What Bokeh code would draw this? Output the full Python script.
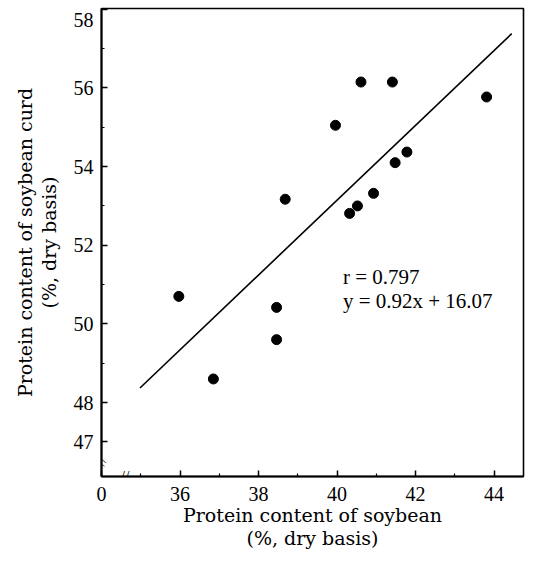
from bokeh.plotting import figure
from bokeh.models import Range1d, FixedTicker, Label
from bokeh.embed import file_html
from bokeh.resources import INLINE

# ---- data ----
soy_protein = [35.97, 36.85, 38.46, 38.46, 38.68, 39.96, 40.32, 40.52,
               40.61, 40.93, 41.41, 41.48, 41.78, 43.81]
curd_protein = [50.70, 48.60, 50.42, 49.60, 53.17, 55.05, 52.81, 53.00,
                56.15, 53.32, 56.15, 54.10, 54.37, 55.77]
fit_x = [34.98, 44.45]
fit_y = [48.37, 57.38]

x_ticks = [34, 36, 38, 40, 42, 44]
x_tick_labels = ["0", "36", "38", "40", "42", "44"]
x_minor = [35, 37, 39, 41, 43]
y_ticks = [47, 48, 50, 52, 54, 56, 58]
y_tick_labels = ["47", "48", "50", "52", "54", "56", "58"]
y_minor = [49, 51, 53, 55, 57]

stats_lines = ["r = 0.797", "y = 0.92x + 16.07"]

x_break = 34.6
y_break = 46.5

SERIF = "Liberation Serif"
LABEL_FONT = "DejaVu Serif"

p = figure(width=526, height=552,
           x_range=Range1d(34, 44.75), y_range=Range1d(46.12, 58.02),
           output_backend="svg", toolbar_location=None,
           min_border_left=101, min_border_right=3,
           min_border_top=8, min_border_bottom=76)

p.background_fill_color = "white"
p.border_fill_color = "white"
p.outline_line_color = "black"
p.outline_line_width = 1.6
p.xgrid.visible = False
p.ygrid.visible = False

# axes
p.xaxis.ticker = FixedTicker(ticks=x_ticks, minor_ticks=x_minor)
p.xaxis.major_label_overrides = {t: l for t, l in zip(x_ticks, x_tick_labels)}
y_over = {t: l for t, l in zip(y_ticks, y_tick_labels)}
# the top label sits a little below its tick in the reference
y_over[58] = " \n" + y_tick_labels[-1]
p.yaxis.ticker = FixedTicker(ticks=y_ticks, minor_ticks=y_minor)
p.yaxis.major_label_overrides = y_over

for ax in (p.xaxis, p.yaxis):
    ax.axis_line_color = "black"
    ax.axis_line_width = 2
    ax.major_tick_in = 6
    ax.major_tick_out = 0
    ax.minor_tick_in = 3
    ax.minor_tick_out = 0
    ax.major_tick_line_color = "black"
    ax.minor_tick_line_color = "black"
    ax.major_tick_line_width = 1.5
    ax.minor_tick_line_width = 1.2
    ax.major_label_text_font = SERIF
    ax.major_label_text_font_size = "20px"
    ax.major_label_text_color = "black"
    ax.axis_label_text_font = LABEL_FONT
    ax.axis_label_text_font_size = "19px"
    ax.axis_label_text_font_style = "normal"
    ax.axis_label_text_color = "black"
    ax.axis_label_text_line_height = 1.05

p.yaxis.major_label_text_line_height = 0.4

p.xaxis.axis_label = "Protein content of soybean\n(%, dry basis)"
p.yaxis.axis_label = "Protein content of soybean curd\n(%, dry basis)"
p.xaxis.major_label_standoff = 10
p.xaxis.axis_label_standoff = 0
p.yaxis.major_label_standoff = 8
p.yaxis.axis_label_standoff = 11

# regression line and points
p.line(fit_x, fit_y, line_color="black", line_width=1.6)
p.scatter(soy_protein, curd_protein, size=10, fill_color="black",
          line_color="black")

# statistics text
p.add_layout(Label(x=40.15, y=51.2, text=stats_lines[0], text_baseline="alphabetic",
                   text_font=SERIF, text_font_size="21px", text_color="black"))
p.add_layout(Label(x=40.15, y=50.59, text=stats_lines[1], text_baseline="alphabetic",
                   text_font=SERIF, text_font_size="21px", text_color="black"))

# axis break marks
p.add_layout(Label(x=x_break, y=46.12, text="//", text_align="center",
                   text_baseline="middle", text_font=SERIF, text_font_size="16px",
                   text_color="black"))
p.add_layout(Label(x=34, y=y_break, text="//", text_align="center",
                   text_baseline="middle", text_font=SERIF, text_font_size="14px",
                   text_color="black", angle=1.2))

open("out.html", "w").write(file_html(p, INLINE))
